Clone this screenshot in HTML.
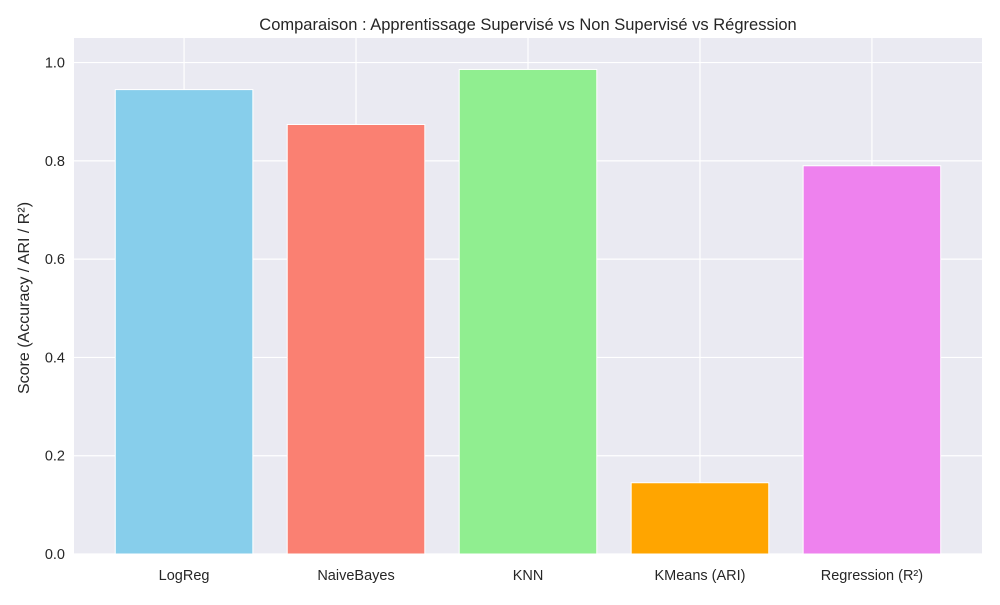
<!DOCTYPE html>
<html><head><meta charset="utf-8"><style>
html,body{margin:0;padding:0;background:#fff;}
svg text{font-family:"Liberation Sans","DejaVu Sans",sans-serif;fill:#262626;}
</style></head><body>
<svg id="chart" width="1000" height="600" xmlns="http://www.w3.org/2000/svg">
<rect x="0" y="0" width="1000" height="600" fill="#ffffff"/>
<rect x="74" y="38" width="908" height="516" fill="#eaeaf2"/>
<g id="grid"></g><g id="bars"></g><g id="ticks"></g>
<text x="528" y="30" text-anchor="middle" font-size="16.5">Comparaison : Apprentissage Supervisé vs Non Supervisé vs Régression</text>
<text transform="translate(29,298) rotate(-90)" text-anchor="middle" font-size="16">Score (Accuracy / ARI / R²)</text>
</svg>
<script>
const categories = ["LogReg","NaiveBayes","KNN","KMeans (ARI)","Regression (R²)"];
const scores = [0.945, 0.874, 0.986, 0.145, 0.790];
const colors = ["#87ceeb","#fa8072","#90ee90","#ffa500","#ee82ee"];
const yTicks = [0.0,0.2,0.4,0.6,0.8,1.0];
const tickLabels = ["0.0","0.2","0.4","0.6","0.8","1.0"];

const L=74,R=982,T=38,B=554, yMax=1.05, xMin=-0.64, xMax=4.64;
const NS="http://www.w3.org/2000/svg";
const yS=v=>B-(v/yMax)*(B-T);
const xS=i=>L+(i-xMin)/(xMax-xMin)*(R-L);
const unit=(R-L)/(xMax-xMin);
function mk(tag,attrs,parent){const e=document.createElementNS(NS,tag);for(const k in attrs)e.setAttribute(k,attrs[k]);parent.appendChild(e);return e;}
const grid=document.getElementById('grid'),bars=document.getElementById('bars'),ticks=document.getElementById('ticks');
yTicks.forEach((v,i)=>{
  const l=mk('line',{x1:L,x2:R,y1:yS(v),y2:yS(v),stroke:'#fff','stroke-width':1.2},grid);
  
  
  const t=mk('text',{x:L-9,y:yS(v)+5,'text-anchor':'end','font-size':14.5},ticks);
  t.textContent=tickLabels[i];
  
  
});
categories.forEach((c,i)=>{
  const l=mk('line',{x1:xS(i),x2:xS(i),y1:T,y2:B,stroke:'#fff','stroke-width':1.2},grid);
  
  
  const w=0.8*unit;
  const r=mk('rect',{x:xS(i)-w/2,y:yS(scores[i]),width:w,height:B-yS(scores[i]),fill:colors[i],stroke:'#fff','stroke-width':1},bars);
  
  
  const t=mk('text',{x:xS(i),y:B+26,'text-anchor':'middle','font-size':14.5},ticks);
  t.textContent=c;
  
  
});
</script>
</body></html>
